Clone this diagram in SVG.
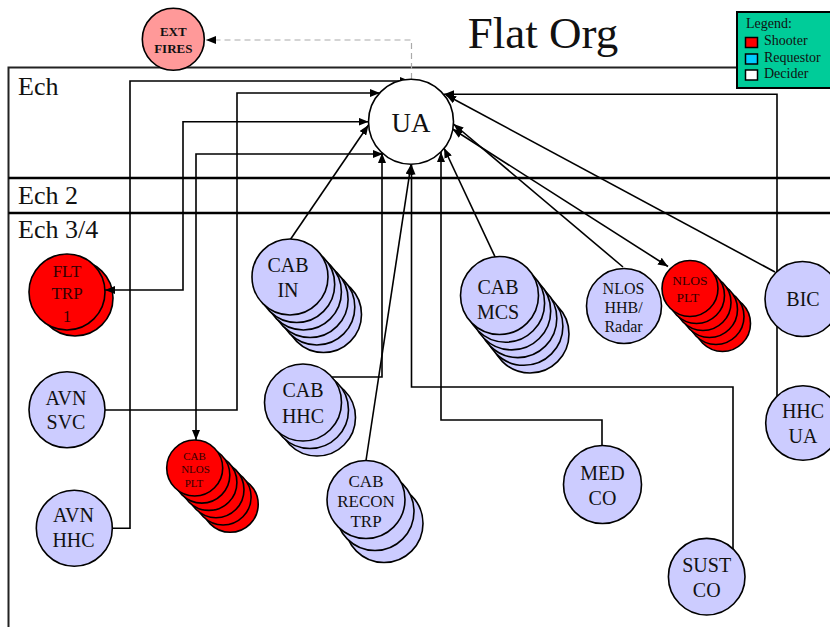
<svg xmlns="http://www.w3.org/2000/svg" width="830" height="627" viewBox="0 0 830 627">
<defs>
<marker id="ah" viewBox="0 0 10 8" refX="10" refY="4" markerWidth="10" markerHeight="8" markerUnits="userSpaceOnUse" orient="auto-start-reverse">
<path d="M0,0 L10,4 L0,8 z" fill="#000"/>
</marker>
<style>
text{font-family:"Liberation Serif","Times New Roman",serif;fill:#111;text-anchor:middle}
.lbl{text-anchor:start}
.blue{fill:#ccccff;stroke:#000;stroke-width:1.6}
.red{fill:#ff0000;stroke:#000;stroke-width:1.6}
.ua{fill:#fff;stroke:#000;stroke-width:1.6}
.c{fill:none;stroke:#000;stroke-width:1.6}
.ca{fill:none;stroke:#000;stroke-width:1.6;marker-end:url(#ah)}
.cb{fill:none;stroke:#000;stroke-width:1.6;marker-end:url(#ah);marker-start:url(#ah)}
.t20{font-size:20px}
.rt{fill:#300}
</style>
</defs>
<rect width="830" height="627" fill="#fff"/>
<g id="frame">
<rect x="8.5" y="67.5" width="840" height="600" fill="none" stroke="#222" stroke-width="2"/>
<line x1="8.5" y1="178" x2="830" y2="178" stroke="#000" stroke-width="2.4"/>
<line x1="8.5" y1="213" x2="830" y2="213" stroke="#000" stroke-width="2.4"/>
<text class="lbl" x="18" y="95" font-size="26">Ech</text>
<text class="lbl" x="18" y="204" font-size="26">Ech 2</text>
<text class="lbl" x="18" y="238" font-size="26">Ech 3/4</text>
</g>
<text x="543" y="48" font-size="45">Flat Org</text>
<g id="legend">
<rect x="737" y="12" width="100" height="76" fill="#00cc99" stroke="#000" stroke-width="2"/>
<text class="lbl" x="746" y="28" font-size="14">Legend:</text>
<rect x="745.5" y="37.5" width="12" height="10" fill="#ff0000" stroke="#000" stroke-width="1.5"/>
<text class="lbl" x="764" y="45" font-size="14">Shooter</text>
<rect x="745.5" y="54" width="12" height="10" fill="#00ccff" stroke="#000" stroke-width="1.5"/>
<text class="lbl" x="764" y="62" font-size="14">Requestor</text>
<rect x="745.5" y="70" width="12" height="10" fill="#fff" stroke="#000" stroke-width="1.5"/>
<text class="lbl" x="764" y="78" font-size="14">Decider</text>
</g>
<g id="flt-trp-1">
<circle class="red" cx="75" cy="298" r="38"/>
<circle class="red" cx="67" cy="292" r="38"/>
<text class="rt" x="67" y="277" font-size="17">FLT</text>
<text class="rt" x="67" y="299" font-size="17">TRP</text>
<text class="rt" x="67" y="321.5" font-size="17">1</text>
</g>
<g id="connectors">
<path class="ca" d="M113,528.3 H130 V81 H410"/>
<path class="ca" d="M105,410 H237 V93 H380"/>
<path class="cb" d="M105,290 H183 V121.7 H368.5"/>
<path class="cb" d="M196,440 V154 H383"/>
<path class="ca" d="M290,240 L368.5,125"/>
<path class="ca" d="M332,377 H382 V153"/>
<path class="ca" d="M366,460.5 L411,164.5"/>
<path class="ca" d="M733,549 V387 H411.5 V164.5"/>
<path class="ca" d="M602,445 V420 H441 V152"/>
<path class="ca" d="M497,261 L444,148"/>
<path class="ca" d="M623,267 L453.5,124"/>
<path class="cb" d="M668,266.5 L452.5,129"/>
<path class="ca" d="M775,272 L446,95"/>
<path class="ca" d="M777,397 V94.3 H444"/>
<path d="M411.5,79 V40 H206" fill="none" stroke="#aaa" stroke-width="1.2" stroke-dasharray="6,4" marker-end="url(#ah)"/>
</g>
<g id="ext-fires">
<circle cx="173.3" cy="39.3" r="31" fill="#ff9999" stroke="#000" stroke-width="1.6"/>
<text x="173.3" y="36" font-size="13" font-weight="bold">EXT</text>
<text x="173.3" y="52.5" font-size="13" font-weight="bold">FIRES</text>
</g>
<g id="ua">
<circle class="ua" cx="411" cy="121.7" r="42.5"/>
<text x="411" y="131.5" font-size="27">UA</text>
</g>
<g id="cab-in">
<circle class="blue" cx="323.5" cy="314.5" r="38"/>
<circle class="blue" cx="316.8" cy="307" r="38"/>
<circle class="blue" cx="310.1" cy="299.5" r="38"/>
<circle class="blue" cx="303.4" cy="292" r="38"/>
<circle class="blue" cx="296.7" cy="284.5" r="38"/>
<circle class="blue" cx="290" cy="277" r="38"/>
<text class="t20" x="288" y="272">CAB</text>
<text class="t20" x="288" y="297">IN</text>
</g>
<g id="cab-mcs">
<circle class="blue" cx="530" cy="334" r="39"/>
<circle class="blue" cx="523.9" cy="326.3" r="39"/>
<circle class="blue" cx="517.8" cy="318.6" r="39"/>
<circle class="blue" cx="511.7" cy="310.9" r="39"/>
<circle class="blue" cx="505.6" cy="303.2" r="39"/>
<circle class="blue" cx="499.5" cy="295.5" r="39"/>
<text class="t20" x="498" y="293.5">CAB</text>
<text class="t20" x="498" y="318.5">MCS</text>
</g>
<g id="nlos-hhb-radar">
<circle class="blue" cx="624" cy="306" r="37.5"/>
<text x="623.5" y="293.5" font-size="16">NLOS</text>
<text x="623.5" y="312.7" font-size="16">HHB/</text>
<text x="623.5" y="331.7" font-size="16">Radar</text>
</g>
<g id="nlos-plt">
<circle class="red" cx="722.5" cy="323.5" r="28"/>
<circle class="red" cx="716" cy="316.5" r="28"/>
<circle class="red" cx="709.5" cy="309.5" r="28"/>
<circle class="red" cx="703" cy="302.5" r="28"/>
<circle class="red" cx="696.5" cy="295.5" r="28"/>
<circle class="red" cx="690" cy="288.5" r="28"/>
<text class="rt" x="690" y="285" font-size="13.5">NLOS</text>
<text class="rt" x="688" y="301.7" font-size="13.5">PLT</text>
</g>
<g id="bic">
<circle class="blue" cx="802.5" cy="299" r="37.5"/>
<text class="t20" x="803" y="306">BIC</text>
</g>
<g id="hhc-ua">
<circle class="blue" cx="803" cy="423" r="37.3"/>
<text class="t20" x="803" y="418.3">HHC</text>
<text class="t20" x="803" y="442.7">UA</text>
</g>
<g id="avn-svc">
<circle class="blue" cx="67" cy="409.7" r="38"/>
<text class="t20" x="66" y="405">AVN</text>
<text class="t20" x="66" y="429.3">SVC</text>
</g>
<g id="avn-hhc">
<circle class="blue" cx="74.3" cy="528.3" r="38"/>
<text class="t20" x="73.5" y="521.7">AVN</text>
<text class="t20" x="73.5" y="547.3">HHC</text>
</g>
<g id="cab-nlos-plt">
<circle class="red" cx="230.2" cy="504.3" r="28"/>
<circle class="red" cx="223.1" cy="497" r="28"/>
<circle class="red" cx="216" cy="489.7" r="28"/>
<circle class="red" cx="208.9" cy="482.4" r="28"/>
<circle class="red" cx="201.8" cy="475.1" r="28"/>
<circle class="red" cx="194.7" cy="468" r="28"/>
<text class="rt" x="194.5" y="460" font-size="11">CAB</text>
<text class="rt" x="195.5" y="473.3" font-size="11">NLOS</text>
<text class="rt" x="194" y="486.7" font-size="11">PLT</text>
</g>
<g id="cab-hhc">
<circle class="blue" cx="317" cy="417.5" r="38.5"/>
<circle class="blue" cx="310" cy="410" r="38.5"/>
<circle class="blue" cx="303" cy="402.5" r="38.5"/>
<text class="t20" x="303" y="396.7">CAB</text>
<text class="t20" x="303" y="422.7">HHC</text>
</g>
<g id="cab-recon-trp">
<circle class="blue" cx="384" cy="523.5" r="39"/>
<circle class="blue" cx="375" cy="511.5" r="39"/>
<circle class="blue" cx="366" cy="499.5" r="39"/>
<text x="366" y="486.7" font-size="17">CAB</text>
<text x="366" y="506.7" font-size="17">RECON</text>
<text x="366" y="526.7" font-size="17">TRP</text>
</g>
<g id="med-co">
<circle class="blue" cx="602.5" cy="484.5" r="39"/>
<text class="t20" x="602.5" y="480">MED</text>
<text class="t20" x="602.5" y="505">CO</text>
</g>
<g id="sust-co">
<circle class="blue" cx="706.7" cy="576.7" r="38.3"/>
<text class="t20" x="706.7" y="571.7">SUST</text>
<text class="t20" x="706.7" y="596.7">CO</text>
</g>
</svg>
